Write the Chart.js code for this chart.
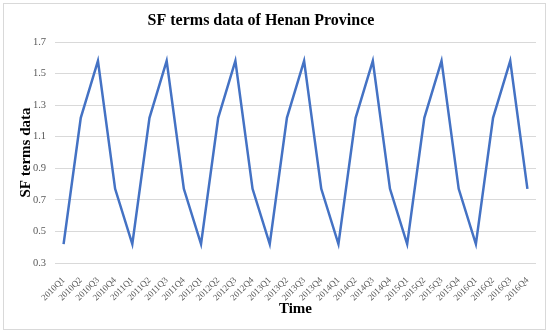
<!DOCTYPE html>
<html>
<head>
<meta charset="utf-8">
<script src="https://cdn.jsdelivr.net/npm/chart.js@4"></script>
<style>
html,body{margin:0;padding:0;background:#fff;}
#box{position:absolute;left:3px;top:3px;width:541px;height:325px;border:1px solid #d9d9d9;}
canvas{display:block;}
</style>
</head>
<body>
<div id="box"><canvas id="c" width="541" height="325"></canvas></div>
<script>
const categories = [
 "2010Q1","2010Q2","2010Q3","2010Q4",
 "2011Q1","2011Q2","2011Q3","2011Q4",
 "2012Q1","2012Q2","2012Q3","2012Q4",
 "2013Q1","2013Q2","2013Q3","2013Q4",
 "2014Q1","2014Q2","2014Q3","2014Q4",
 "2015Q1","2015Q2","2015Q3","2015Q4",
 "2016Q1","2016Q2","2016Q3","2016Q4"
];
const sfValues = [
 0.42,1.22,1.58,0.77,
 0.42,1.22,1.58,0.77,
 0.42,1.22,1.58,0.77,
 0.42,1.22,1.58,0.77,
 0.42,1.22,1.58,0.77,
 0.42,1.22,1.58,0.77,
 0.42,1.22,1.58,0.77
];
const yTicks = [0.3,0.5,0.7,0.9,1.1,1.3,1.5,1.7];
const chartTitle = 'SF terms data of Henan Province';
const serif = "'Liberation Serif','DejaVu Serif',serif";

const titlePlugin = {
  id: 'offsetTitle',
  afterDraw(chart) {
    const ctx = chart.ctx;
    ctx.save();
    ctx.font = "bold 16px " + serif;
    ctx.fillStyle = '#000';
    ctx.textAlign = 'center';
    ctx.textBaseline = 'middle';
    ctx.fillText(chartTitle, 257, 17);
    ctx.restore();
  }
};

new Chart(document.getElementById('c'), {
  type: 'line',
  data: {
    labels: categories,
    datasets: [{
      label: 'SF terms data',
      data: sfValues,
      borderColor: '#4472C4',
      borderWidth: 2.5,
      pointRadius: 0,
      tension: 0,
      fill: false
    }]
  },
  plugins: [titlePlugin],
  options: {
    responsive: false,
    animation: false,
    layout: { padding: { left: 0, right: 9, top: 38, bottom: 0 } },
    plugins: {
      legend: { display: false },
      tooltip: { enabled: false },
      title: { display: false }
    },
    scales: {
      x: {
        offset: true,
        grid: { display: false },
        border: { display: false },
        afterFit: (axis) => { axis.height = 66; },
        ticks: {
          autoSkip: false,
          maxRotation: 45,
          minRotation: 45,
          font: { family: serif, size: 9 },
          color: '#595959',
          padding: 4
        },
        title: {
          display: true,
          text: 'Time',
          font: { family: serif, size: 15, weight: 'bold' },
          color: '#000',
          padding: { top: 0, bottom: 11 }
        }
      },
      y: {
        min: 0.3,
        max: 1.7,
        afterBuildTicks: (axis) => { axis.ticks = yTicks.map(v => ({ value: v })); },
        afterFit: (axis) => { axis.width = 51; },
        grid: { color: '#d9d9d9', drawTicks: false },
        border: { display: false },
        ticks: {
          font: { family: serif, size: 10.5 },
          color: '#595959',
          padding: 9,
          callback: (v) => Number(v).toFixed(1)
        },
        title: {
          display: true,
          text: 'SF terms data',
          font: { family: serif, size: 15, weight: 'bold' },
          color: '#000',
          padding: { top: 13, bottom: 0 }
        }
      }
    }
  }
});
</script>
</body>
</html>
